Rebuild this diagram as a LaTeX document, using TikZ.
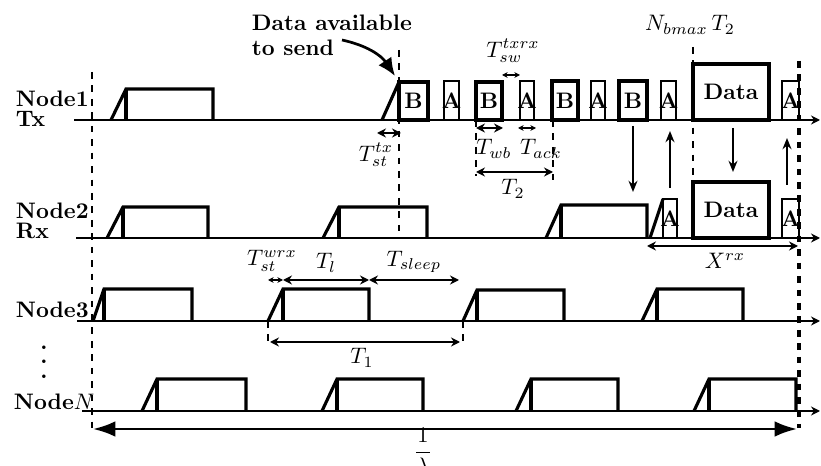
\documentclass[tikz,border=0pt]{standalone}
\usepackage{amsmath,amssymb}
\usepackage{tikz}
\usetikzlibrary{arrows.meta,positioning,calc}

% one wake-up period: ramp, then the listening box
\newcommand{\wakeup}[5]{%
  \draw[pulse] (#1,#5) -- (#2,#4) -- (#3,#4) -- (#3,#5);
  \draw[pulse] (#2,#4) -- (#2,#5);}

\begin{document}
\begin{tikzpicture}[
  x=0.01568cm, y=-0.01568cm,
  axis/.style={-{Stealth[length=4pt,width=4pt]}, line width=0.9pt},
  pulse/.style={line width=1.4pt},
  abox/.style={draw, line width=0.9pt},
  bbox/.style={draw, line width=1.4pt},
  databox/.style={draw, line width=2pt},
  lbl/.style={font=\bfseries},
  dim/.style={{Stealth[length=4pt,width=4pt]}-{Stealth[length=4pt,width=4pt]}, line width=0.9pt},
  smalldim/.style={{Stealth[length=2.5pt,width=2.5pt]}-{Stealth[length=2.5pt,width=2.5pt]}, line width=0.5pt},
  msg/.style={-{Stealth[length=5pt,width=4pt]}, line width=0.9pt},
  guide/.style={dashed, line width=0.9pt}
]
  \useasboundingbox (0,0) rectangle (821,466);

  % row names
  \node[lbl, anchor=west, align=left] (row1) at (8,109) {Node1\\[-3pt]Tx};
  \node[lbl, anchor=west, align=left] (row2) at (8,221) {Node2\\[-3pt]Rx};
  \node[lbl, anchor=west] (row3) at (8,310) {Node3};
  \node[lbl, anchor=west] (rowN) at (6,402) {Node$N$};
  \node[lbl, align=center] (dots) at (44,362) {.\\[-5.5pt].\\[-5.5pt].};

  % time axes
  \coordinate (a1s) at (74,120);  \coordinate (a1e) at (820,120);
  \coordinate (a2s) at (76,238);  \coordinate (a2e) at (820,238);
  \coordinate (a3s) at (77,321);  \coordinate (a3e) at (820,321);
  \coordinate (aNs) at (82,411);  \coordinate (aNe) at (820,411);
  \draw[axis] (a1s) -- (a1e);
  \draw[axis] (a2s) -- (a2e);
  \draw[axis] (a3s) -- (a3e);
  \draw[axis] (aNs) -- (aNe);

  % period limits
  \coordinate (p0t) at (92,72);   \coordinate (p0b) at (92,433);
  \coordinate (p1t) at (799,61);  \coordinate (p1b) at (799,428);
  \draw[guide] (p0t) -- (p0b);
  \draw[dashed, line width=2pt] (p1t) -- (p1b);

  % Node1 Tx
  \wakeup{111}{126}{213}{89}{120}
  \draw[pulse] (382,120) -- (399,82);
  \draw[bbox] (399,82) rectangle (428,120) node[midway, lbl] (b1) {B};
  \draw[abox] (444,81) rectangle (459,120) node[midway, lbl] (c1) {A};
  \draw[bbox] (476,82) rectangle (502,120) node[midway, lbl] (b2) {B};
  \draw[abox] (520,81) rectangle (534,120) node[midway, lbl] (c2) {A};
  \draw[bbox] (552,81) rectangle (578,120) node[midway, lbl] (b3) {B};
  \draw[abox] (591,81) rectangle (605,120) node[midway, lbl] (c3) {A};
  \draw[bbox] (619,81) rectangle (647,120) node[midway, lbl] (b4) {B};
  \draw[abox] (661,81) rectangle (676,120) node[midway, lbl] (c4) {A};
  \draw[databox] (693,64) rectangle (769,120) node[midway, lbl] (d1) {Data};
  \draw[abox] (782,81) rectangle (799,120) node[midway, lbl] (c5) {A};

  % Node2 Rx
  \wakeup{107}{123}{208}{207}{238}
  \wakeup{323}{339}{427}{207}{238}
  \wakeup{546}{561}{647}{205}{238}
  \draw[pulse] (650,238) -- (663,199);
  \draw[abox] (663,199) rectangle (677,238) node[midway, lbl] (r1) {A};
  \draw[databox] (693,182) rectangle (769,238) node[midway, lbl] (d2) {Data};
  \draw[abox] (782,199) rectangle (799,238) node[midway, lbl] (r2) {A};

  % Node3
  \wakeup{93}{104}{192}{289}{321}
  \wakeup{268}{283}{369}{289}{321}
  \wakeup{463}{477}{564}{290}{321}
  \wakeup{642}{657}{743}{289}{321}

  % NodeN
  \wakeup{142}{157}{246}{379}{411}
  \wakeup{322}{337}{423}{379}{411}
  \wakeup{516}{531}{618}{379}{411}
  \wakeup{694}{709}{796}{379}{411}

  % data arrival
  \node[lbl, anchor=west, align=left] (avail) at (244,35) {Data available\\[-1pt]to send};
  \coordinate (availtip) at (395,76);
  \draw[-{Latex[length=8pt,width=7pt]}, line width=1.2pt] (342,40) to[bend left=22] (availtip);
  \draw[guide] (399,50) -- (399,238);

  % strobe timings on Node1
  \coordinate (stx1) at (377,133); \coordinate (stx2) at (401,133);
  \draw[dim] (stx1) -- (stx2);
  \node (tst) at (376,155) {$T_{st}^{tx}$};
  \coordinate (sw1) at (502,75); \coordinate (sw2) at (520,75);
  \draw[smalldim] (sw1) -- (sw2);
  \node (tsw) at (513,51) {$T_{sw}^{txrx}$};
  \coordinate (wb1) at (476,128); \coordinate (wb2) at (503,128);
  \draw[dim] (wb1) -- (wb2);
  \node (twb) at (494,149) {$T_{wb}$};
  \coordinate (ack1) at (518,128); \coordinate (ack2) at (536,128);
  \draw[smalldim] (ack1) -- (ack2);
  \node (tack) at (541,149) {$T_{ack}$};
  \draw[guide] (476,120) -- (476,176);
  \draw[guide] (553,120) -- (553,180);
  \coordinate (t2a) at (476,172); \coordinate (t2b) at (553,172);
  \draw[dim] (t2a) -- (t2b);
  \node (tt2) at (513,189) {$T_2$};
  \draw[guide] (693,47) -- (693,182);
  \node (nb) at (690,25) {$N_{bmax}\,T_2$};

  % exchanged messages
  \draw[msg] (633,126) -- (633,192);
  \draw[msg] (670,188) -- (670,131);
  \draw[msg] (733,128) -- (733,172);
  \draw[msg] (787,185) -- (787,138);

  % receiver timings
  \coordinate (xr1) at (647,246); \coordinate (xr2) at (798,246);
  \draw[dim] (xr1) -- (xr2);
  \node (xrx) at (725,261) {$X^{rx}$};

  % Node3 timings
  \coordinate (w1) at (268,280); \coordinate (w2) at (283,280);
  \coordinate (w3) at (369,280); \coordinate (w4) at (459,280);
  \draw[smalldim] (w1) -- (w2);
  \draw[dim] (w2) -- (w3);
  \draw[dim] (w3) -- (w4);
  \node (twrx) at (272,261) {$T_{st}^{wrx}$};
  \node (tl) at (326,263) {$T_l$};
  \node (tsl) at (414,262) {$T_{sleep}$};
  \draw[guide] (268,321) -- (268,347);
  \draw[guide] (463,321) -- (463,345);
  \coordinate (t1a) at (270,342); \coordinate (t1b) at (460,342);
  \draw[dim] (t1a) -- (t1b);
  \node (tt1) at (362,358) {$T_1$};

  % whole period
  \coordinate (lam1) at (93,429); \coordinate (lam2) at (797,429);
  \draw[{Latex[length=10pt,width=7pt]}-{Latex[length=10pt,width=7pt]}, line width=1.2pt] (lam1) -- (lam2);
  \node (lam) at (423,451) {$\displaystyle\frac{1}{\lambda}$};
\end{tikzpicture}
\end{document}
